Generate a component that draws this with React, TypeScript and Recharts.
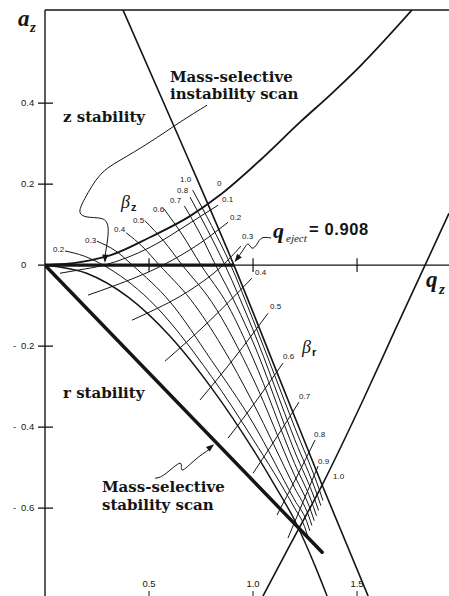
import React from "react";
import {
  Customized,
  Line,
  LineChart,
  ReferenceDot,
  ReferenceLine,
  XAxis,
  YAxis,
} from "recharts";

type Pt = [number, number];

// axes
const qTicks = [0.5, 1.0, 1.5];
const aTicks = [0.4, 0.2, 0, -0.2, -0.4, -0.6];
const qDomain: [number, number] = [0, 1.942];
const aDomain: [number, number] = [-0.817, 0.63];
const qEject = 0.908;

// stability boundaries (q_z, a_z)
const betaZ0: Pt[] = [[0, 0], [0.2, -0.02], [0.4, -0.079], [0.6, -0.175], [0.8, -0.303], [1.0, -0.455], [1.1, -0.54], [1.2, -0.63], [1.3, -0.745], [1.356, -0.817]];
const betaZ1: Pt[] = [[0.375, 0.63], [0.649, 0.309], [0.908, 0], [1.13, -0.284], [1.332, -0.543], [1.553, -0.817]];
const betaR0: Pt[] = [[0, 0], [0.168, 0.0074], [0.3125, 0.024], [0.505, 0.069], [0.697, 0.121], [0.841, 0.173], [1.034, 0.259], [1.226, 0.353], [1.37, 0.42], [1.514, 0.491], [1.764, 0.63]];
const betaR1: Pt[] = [[1.048, -0.817], [1.178, -0.691], [1.332, -0.543], [1.529, -0.333], [1.683, -0.16], [1.827, 0], [1.942, 0.128]];
const scanLine: Pt[] = [[0, 0], [1.332, -0.709]];

// iso-beta_z lines
const bz02: Pt[] = [[0.096, 0.035], [0.19, 0.022], [0.28, 0], [0.5, -0.085], [0.8, -0.275], [1.0, -0.43], [1.2, -0.6], [1.247, -0.645], [1.262, -0.668]];
const bz03: Pt[] = [[0.25, 0.059], [0.34, 0.035], [0.42, 0], [0.6, -0.09], [0.8, -0.235], [1.0, -0.39], [1.2, -0.58], [1.258, -0.633], [1.273, -0.656]];
const bz04: Pt[] = [[0.39, 0.08], [0.47, 0.045], [0.55, 0], [0.7, -0.085], [0.85, -0.2], [1.0, -0.34], [1.2, -0.55], [1.268, -0.62], [1.283, -0.643]];
const bz05: Pt[] = [[0.48, 0.11], [0.57, 0.06], [0.66, 0], [0.8, -0.09], [1.0, -0.28], [1.2, -0.52], [1.279, -0.608], [1.294, -0.631]];
const bz06: Pt[] = [[0.57, 0.14], [0.66, 0.075], [0.75, 0], [0.88, -0.1], [1.0, -0.23], [1.2, -0.49], [1.29, -0.596], [1.305, -0.619]];
const bz07: Pt[] = [[0.67, 0.146], [0.745, 0.078], [0.82, 0], [0.92, -0.1], [1.0, -0.19], [1.2, -0.46], [1.3, -0.583], [1.315, -0.606]];
const bz08: Pt[] = [[0.697, 0.168], [0.78, 0.088], [0.865, 0], [1.0, -0.16], [1.2, -0.43], [1.311, -0.571], [1.326, -0.594]];
const bz09: Pt[] = [[0.71, 0.185], [0.8, 0.098], [0.893, 0], [1.0, -0.135], [1.2, -0.4], [1.321, -0.558], [1.336, -0.581]];

// iso-beta_r lines
const br01: Pt[] = [[0.072, -0.02], [0.163, -0.012], [0.284, 0], [0.505, 0.044], [0.697, 0.104], [0.832, 0.148]];
const br02: Pt[] = [[0.207, -0.074], [0.327, -0.052], [0.567, 0], [0.745, 0.054], [0.88, 0.106]];
const br03: Pt[] = [[0.418, -0.136], [0.49, -0.119], [0.697, -0.062], [0.851, -0.002], [0.942, 0.047]];
const br04: Pt[] = [[0.577, -0.237], [0.784, -0.141], [0.995, -0.032]];
const br05: Pt[] = [[0.745, -0.333], [0.909, -0.23], [1.072, -0.119]];
const br06: Pt[] = [[0.88, -0.427], [1.014, -0.336], [1.144, -0.242]];
const br07: Pt[] = [[1.0, -0.514], [1.111, -0.427], [1.221, -0.338]];
const br08: Pt[] = [[1.115, -0.617], [1.207, -0.526], [1.298, -0.432]];
const br09: Pt[] = [[1.168, -0.674], [1.24, -0.585], [1.313, -0.496]];

// leader lines to the annotations
const leadInstab: Pt[] = [[0.779, 0.395], [0.649, 0.353], [0.505, 0.304], [0.361, 0.259], [0.264, 0.222], [0.192, 0.165], [0.168, 0.131], [0.202, 0.119], [0.264, 0.116], [0.298, 0.104], [0.303, 0.074], [0.293, 0.037], [0.288, 0.017]];
const leadStab: Pt[] = [[0.529, -0.526], [0.577, -0.516], [0.649, -0.489], [0.659, -0.506], [0.721, -0.481], [0.793, -0.454]];
const leadEject: Pt[] = [[1.087, 0.067], [1.043, 0.067], [1.019, 0.052], [0.995, 0.042], [0.976, 0.052], [0.952, 0.037], [0.923, 0.017]];

const rows = (pts: Pt[]) => pts.map(([q, a]) => ({ q, a }));

const INK = "#151515";
const SANS = "'Liberation Sans', Arial, sans-serif";
const SERIF = "'DejaVu Serif', serif";
const TIMES = "'Liberation Serif', 'Times New Roman', serif";

function YTick(props: any) {
  const { x, y, payload } = props;
  const v: number = payload.value;
  const txt = v === 0 ? "0" : Math.abs(v).toFixed(1);
  return (
    <g>
      <line x1={x - 7} x2={x + 8} y1={y} y2={y} stroke={INK} strokeWidth={1.3} />
      {v < 0 && (
        <text x={13} y={y + 3} fontSize={9.5} fontFamily={SANS} fill={INK}>-</text>
      )}
      <text x={21} y={y + 3} fontSize={9.5} fontFamily={SANS} fill={INK}>{txt}</text>
    </g>
  );
}

// bottom tick: a short mark at the lower edge with its value above it
const bottomTick = (label: string) => (p: any) => (
  <g>
    <line x1={p.cx} x2={p.cx} y1={p.cy - 5} y2={p.cy} stroke={INK} strokeWidth={1} />
    <text x={p.cx} y={p.cy - 9} textAnchor="middle" fontSize={9.5} fontFamily={SANS} fill={INK}>
      {label}
    </text>
  </g>
);

const arrow = (angle: number) => (p: any) => (
  <polygon
    points="0,0 -8,-3 -8,3"
    transform={`translate(${p.cx},${p.cy}) rotate(${angle})`}
    fill={INK}
  />
);

const small = (x: number, y: number, t: string) => (
  <text key={`${t}-${x}-${y}`} x={x} y={y} fontSize={8} fontFamily={SANS} fill={INK}>{t}</text>
);

function Annotations() {
  return (
    <g>
      <text x={18} y={26} fontSize={23} fontFamily={TIMES} fontStyle="italic" fontWeight="bold" fill={INK}>a</text>
      <text x={30} y={32} fontSize={15} fontFamily={TIMES} fontStyle="italic" fontWeight="bold" fill={INK}>z</text>
      <text x={426} y={287} fontSize={23} fontFamily={TIMES} fontStyle="italic" fontWeight="bold" fill={INK}>q</text>
      <text x={439} y={294} fontSize={15} fontFamily={TIMES} fontStyle="italic" fontWeight="bold" fill={INK}>z</text>

      <g fontFamily={SERIF} fontWeight="bold" fontSize={15} fill={INK}>
        <text x={63} y={122}>z stability</text>
        <text x={63} y={398}>r stability</text>
        <text x={170} y={82}>Mass-selective</text>
        <text x={170} y={99}>instability scan</text>
        <text x={102} y={492}>Mass-selective</text>
        <text x={102} y={510}>stability scan</text>
      </g>

      <text x={121} y={208} fontSize={18} fontFamily={TIMES} fontStyle="italic" fill={INK}>β</text>
      <text x={131} y={211} fontSize={11} fontFamily={SANS} fontWeight="bold" fill={INK}>z</text>
      <text x={302} y={353} fontSize={18} fontFamily={TIMES} fontStyle="italic" fill={INK}>β</text>
      <text x={312} y={356} fontSize={11} fontFamily={SANS} fontWeight="bold" fill={INK}>r</text>

      <text x={273} y={238} fontSize={22} fontFamily={TIMES} fontStyle="italic" fontWeight="bold" fill={INK}>q</text>
      <text x={286} y={242} fontSize={11} fontFamily={TIMES} fontStyle="italic" fill={INK}>eject</text>
      <text x={309} y={235} fontSize={16.5} fontFamily={SANS} fontWeight="bold" letterSpacing={0.6} fill={INK}>= 0.908</text>

      {small(53, 252, "0.2")}
      {small(85, 243, "0.3")}
      {small(114, 232, "0.4")}
      {small(133, 223, "0.5")}
      {small(153, 212, "0.6")}
      {small(170, 203, "0.7")}
      {small(177, 193, "0.8")}
      {small(180, 182, "1.0")}

      {small(217, 186, "0")}
      {small(222, 202, "0.1")}
      {small(230, 220, "0.2")}
      {small(242, 239, "0.3")}
      {small(255, 275, "0.4")}
      {small(270, 309, "0.5")}
      {small(283, 359, "0.6")}
      {small(299, 399, "0.7")}
      {small(314, 437, "0.8")}
      {small(318, 464, "0.9")}
      {small(333, 479, "1.0")}
    </g>
  );
}

const isoZ = [bz02, bz03, bz04, bz05, bz06, bz07, bz08, bz09];
const isoR = [br01, br02, br03, br04, br05, br06, br07, br08, br09];

export default function App() {
  return (
    <div style={{ position: "absolute", left: 0, top: 0, width: 449, height: 596, background: "#fff" }}>
      <LineChart width={449} height={596} margin={{ top: 10, right: 0, bottom: 0, left: 0 }}>
        <XAxis
          dataKey="q"
          type="number"
          domain={qDomain}
          ticks={qTicks}
          height={0}
          axisLine={false}
          tickLine={false}
          tick={false}
          allowDataOverflow
        />
        <YAxis
          type="number"
          domain={aDomain}
          ticks={aTicks}
          interval={0}
          width={45}
          tickLine={false}
          tickSize={0}
          tickMargin={0}
          tick={<YTick />}
          axisLine={{ stroke: INK, strokeWidth: 1.4 }}
          allowDataOverflow
        />

        {/* frame on top */}
        <ReferenceLine y={aDomain[1]} stroke={INK} strokeWidth={1.6} ifOverflow="visible" />

        <ReferenceLine y={0} stroke={INK} strokeWidth={1.3} />
        <ReferenceLine segment={[{ x: 0, y: 0 }, { x: qEject, y: 0 }]} stroke={INK} strokeWidth={3.2} />
        {qTicks.map((t) => (
          <ReferenceLine key={t} segment={[{ x: t, y: -0.017 }, { x: t, y: 0.017 }]} stroke={INK} strokeWidth={1.2} />
        ))}
        {qTicks.map((t) => (
          <ReferenceDot key={`b${t}`} x={t} y={aDomain[0]} r={0} ifOverflow="visible" shape={bottomTick(t.toFixed(1))} />
        ))}

        {isoZ.map((d, i) => (
          <Line key={`z${i}`} data={rows(d)} dataKey="a" type="monotoneX" stroke={INK} strokeWidth={1} dot={false} isAnimationActive={false} />
        ))}
        {isoR.map((d, i) => (
          <Line key={`r${i}`} data={rows(d)} dataKey="a" type="monotoneX" stroke={INK} strokeWidth={1} dot={false} isAnimationActive={false} />
        ))}

        <Line data={rows(betaZ0)} dataKey="a" type="monotoneX" stroke={INK} strokeWidth={1.5} dot={false} isAnimationActive={false} />
        <Line data={rows(betaZ1)} dataKey="a" type="monotoneX" stroke={INK} strokeWidth={1.6} dot={false} isAnimationActive={false} />
        <Line data={rows(betaR0)} dataKey="a" type="monotoneX" stroke={INK} strokeWidth={1.8} dot={false} isAnimationActive={false} />
        <Line data={rows(betaR1)} dataKey="a" type="monotoneX" stroke={INK} strokeWidth={1.6} dot={false} isAnimationActive={false} />
        <Line data={rows(scanLine)} dataKey="a" type="linear" stroke={INK} strokeWidth={3.5} strokeLinecap="round" dot={false} isAnimationActive={false} />

        <Line data={rows(leadInstab)} dataKey="a" type="natural" stroke={INK} strokeWidth={1} dot={false} isAnimationActive={false} />
        <Line data={rows(leadStab)} dataKey="a" type="natural" stroke={INK} strokeWidth={1} dot={false} isAnimationActive={false} />
        <Line data={rows(leadEject)} dataKey="a" type="natural" stroke={INK} strokeWidth={1} dot={false} isAnimationActive={false} />
        <ReferenceDot x={0.288} y={0.006} r={0} shape={arrow(92)} />
        <ReferenceDot x={0.8125} y={-0.442} r={0} shape={arrow(-40)} />
        <ReferenceDot x={0.911} y={0.008} r={0} shape={arrow(128)} />

        <Customized component={Annotations} />
      </LineChart>
    </div>
  );
}
